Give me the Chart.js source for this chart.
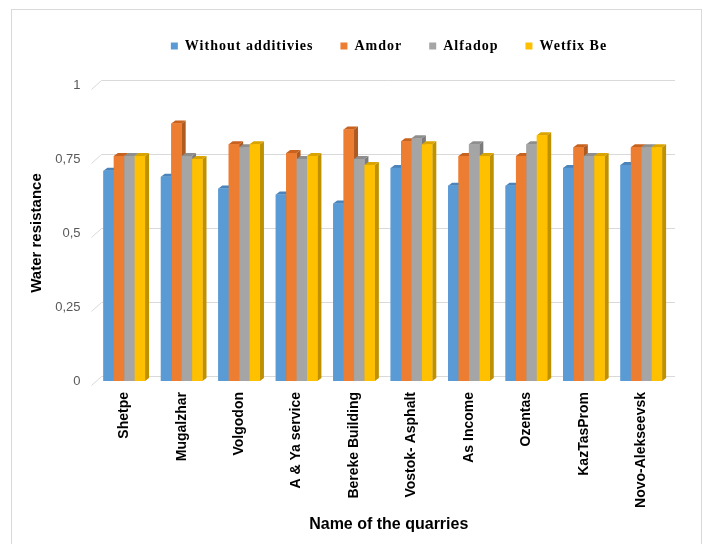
<!DOCTYPE html>
<html><head><meta charset="utf-8">
<script src="https://cdn.jsdelivr.net/npm/chart.js@4.4.0/dist/chart.umd.min.js"></script>
<style>
html,body{margin:0;padding:0;background:#fff;overflow:hidden}
#wrap{position:relative;width:707px;height:544px;overflow:hidden}
#frame{position:absolute;left:11px;top:9px;width:691px;height:560px;border:1px solid #d9d9d9;box-sizing:border-box;pointer-events:none}
canvas{position:absolute;left:0;top:0}
</style></head><body>
<div id="wrap"><canvas id="c" width="707" height="544"></canvas><div id="frame"></div></div>
<script>
const categories = ['Shetpe','Mugalzhar','Volgodon','A & Ya service','Bereke Building','Vostok- Asphalt','As Income','Ozentas','KazTasProm','Novo-Alekseevsk'];
const seriesNames = ['Without additivies','Amdor','Alfadop','Wetfix Be'];
const withoutAdditivies = [0.71,0.69,0.65,0.63,0.60,0.72,0.66,0.66,0.72,0.73];
const amdor = [0.76,0.87,0.80,0.77,0.85,0.81,0.76,0.76,0.79,0.79];
const alfadop = [0.76,0.76,0.79,0.75,0.75,0.82,0.80,0.80,0.76,0.79];
const wetfixBe = [0.76,0.75,0.80,0.76,0.73,0.80,0.76,0.83,0.76,0.79];
const yTicks = [0,0.25,0.5,0.75,1];
const yTickLabels = ['0','0,25','0,5','0,75','1'];
const axisTitleX = 'Name of the quarries';
const axisTitleY = 'Water resistance';

const frontColors = ['#5B9BD5','#ED7D31','#A5A5A5','#FFC000'];
const sideColors  = ['#41719C','#AE5A21','#7B7B7B','#BF9000'];
const topColors   = ['#4A84BA','#C8621F','#8E8E8E','#D9A400'];
const seriesValues = [withoutAdditivies, amdor, alfadop, wetfixBe];

const DX = 4, DY = 3;

const grid3d = {
  id: 'grid3d',
  beforeDatasetsDraw(chart) {
    const ctx = chart.ctx, ys = chart.scales.y, a = chart.chartArea;
    ctx.save();
    ctx.strokeStyle = '#d9d9d9';
    ctx.lineWidth = 1;
    yTicks.forEach(v => {
      const y = Math.round(ys.getPixelForValue(v)) + 0.5;
      ctx.beginPath();
      ctx.moveTo(a.left - 4, y + 4);
      ctx.lineTo(a.left + 6, y - 5);
      ctx.lineTo(a.right + 5, y - 5);
      ctx.stroke();
    });
    ctx.restore();
  }
};

const bar3d = {
  id: 'bar3d',
  afterDatasetsDraw(chart) {
    const ctx = chart.ctx;
    ctx.save();
    for (let i = 0; i < categories.length; i++) {
      for (let d = 0; d < chart.data.datasets.length; d++) {
        const el = chart.getDatasetMeta(d).data[i];
        if (!el) continue;
        const p = el.getProps(['x','y','base','width'], true);
        const l = p.x - p.width / 2, r = p.x + p.width / 2, y = p.y, b = p.base;
        ctx.fillStyle = sideColors[d];
        ctx.beginPath();
        ctx.moveTo(r, y); ctx.lineTo(r + DX, y - DY); ctx.lineTo(r + DX, b - DY); ctx.lineTo(r, b);
        ctx.closePath(); ctx.fill();
        ctx.fillStyle = topColors[d];
        ctx.beginPath();
        ctx.moveTo(l, y); ctx.lineTo(l + DX, y - DY); ctx.lineTo(r + DX, y - DY); ctx.lineTo(r, y);
        ctx.closePath(); ctx.fill();
        ctx.fillStyle = frontColors[d];
        ctx.fillRect(l, y, r - l, b - y);
      }
    }
    ctx.restore();
  }
};

const layoutTweak = {
  id: 'layoutTweak',
  beforeLayout(chart) {
    const lg = chart.legend;
    if (lg && !lg._tweaked) {
      lg._tweaked = true;
      const fit = lg.fit.bind(lg), draw = lg.draw.bind(lg);
      lg.fit = function () {
        chart.ctx.save(); chart.ctx.letterSpacing = '1px';
        fit();
        chart.ctx.restore();
        this.height += 22;
      };
      lg.draw = function () {
        chart.ctx.save(); chart.ctx.letterSpacing = '1px';
        chart.ctx.translate(42, 0);
        draw();
        chart.ctx.restore();
      };
    }
  },
  beforeDraw(chart) {
    const xs = chart.scales.x;
    if (xs && !xs._tweaked) {
      xs._tweaked = true;
      const dt = xs.drawTitle.bind(xs);
      xs.drawTitle = function () {
        chart.ctx.save(); chart.ctx.translate(6, 0); dt(); chart.ctx.restore();
      };
    }
  }
};

new Chart(document.getElementById('c'), {
  type: 'bar',
  data: {
    labels: categories,
    datasets: seriesNames.map((n, k) => ({
      label: n, data: seriesValues[k], backgroundColor: frontColors[k], borderWidth: 0,
      categoryPercentage: 0.725, barPercentage: 1
    }))
  },
  options: {
    responsive: false, animation: false,
    layout: { padding: { top: 12, left: 24, right: 37, bottom: 0 } },
    plugins: {
      legend: {
        position: 'top',
        labels: {
          boxWidth: 7, boxHeight: 7, padding: 27,
          color: '#000',
          font: { family: '"Liberation Serif", "Times New Roman", serif', size: 14, weight: 'bold' }
        }
      },
      tooltip: { enabled: false }
    },
    scales: {
      x: {
        grid: { display: false, drawTicks: false },
        border: { display: false },
        ticks: {
          autoSkip: false, maxRotation: 90, minRotation: 90, padding: 11, color: '#000',
          font: { family: '"Liberation Sans", Arial, sans-serif', size: 14, weight: 'bold' }
        },
        title: {
          display: true, text: axisTitleX, color: '#000', padding: { top: 4, bottom: 10 },
          font: { family: '"Liberation Sans", Arial, sans-serif', size: 16, weight: 'bold' }
        },
        afterFit(s) { s.height = 163; }
      },
      y: {
        min: 0, max: 1,
        grid: { display: false, drawTicks: false },
        border: { display: false },
        afterBuildTicks(s) { s.ticks = yTicks.map(v => ({ value: v })); },
        ticks: {
          padding: 15, color: '#595959',
          font: { family: '"Liberation Sans", Arial, sans-serif', size: 13 },
          callback: (v) => yTickLabels[yTicks.indexOf(v)]
        },
        title: {
          display: true, text: axisTitleY, color: '#000', padding: { top: 4, bottom: 4 },
          font: { family: '"Liberation Sans", Arial, sans-serif', size: 15, weight: 'bold' }
        },
        afterFit(s) { s.width = 71.5; }
      }
    }
  },
  plugins: [layoutTweak, grid3d, bar3d]
});
</script>
</body></html>
